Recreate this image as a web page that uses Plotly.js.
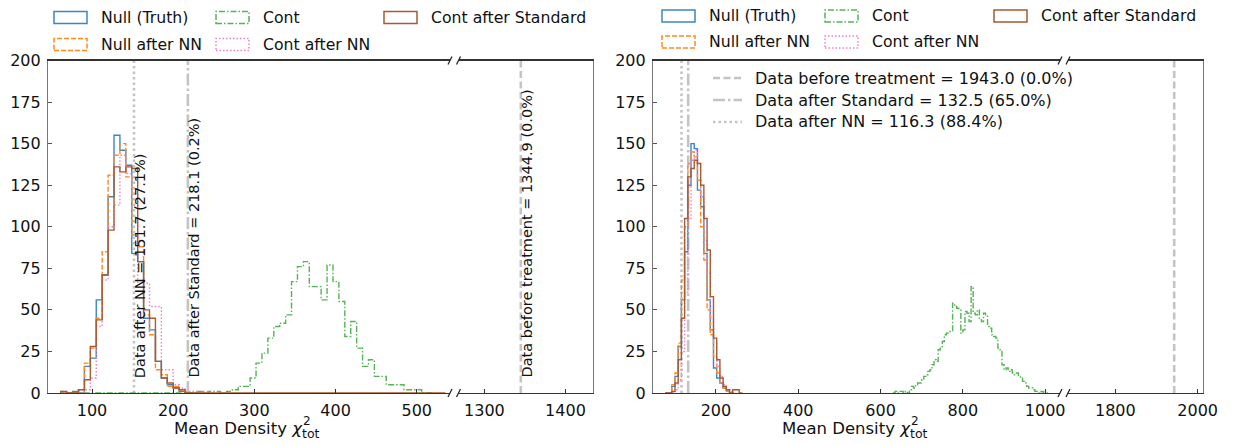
<!DOCTYPE html>
<html>
<head>
<meta charset="utf-8">
<script src="https://cdn.plot.ly/plotly-3.0.1.min.js"></script>
<style>html,body{margin:0;padding:0;background:#fff;}#chart{width:1235px;height:445px;}</style>
</head>
<body>
<div id="chart"></div>
<script>
// ---------------- DATA ----------------
// Left panel: common histogram bins
const leftBinStart = 61.5;
const leftBinWidth = 7.29;
const nullTruthL = [0,0,1,0,16,21,56,71,118,155,146,137,84,79,45,38,19,9,5,3,1,0];
const nullNNL    = [1,0,0,2,18,27,45,85,131,143,150,130,95,88,47,35,14,11,4,4,2,0,0,0];
const contL      = [0,0,0,0,0,0,0,0,0,0,0,0,0,0,0,0,0,0,0,0,0,0,0,
                    1,0,1,1,0,1,2,4,4,9,18,24,33,40,42,47,67,76,79,64,64,56,77,67,55,34,43,27,16,20,10,10,5,5,5,2,2,2,0,0];
const contNNL     = [0,0,0,0,2,9,40,68,100,113,143,132,120,66,66,52,52,14,14,5,3,1,1,0,1,0];
const contStdL    = [1,0,0,2,8,28,44,71,98,136,133,136,135,79,50,45,19,9,6,3,2,0,0,
                    0,0,0,0,0,0,0,0,0,0,0,0,0,0,0,0,0,0,0,0,0,0,0,0,0,0,0,0,0,0,0,0,0,0,0,0,0,0,0,0,0,0];
// Right panel
const rightNullBinStart = 77;
const rightNullBinWidth = 7.8;
const nullTruthR = [0,0,4,10,28,56,85,125,150,147,122,112,84,56,38,15,9,6,3,2,0];
const nullNNR    = [0,0,5,12,30,68,100,138,145,142,128,100,80,50,35,22,12,6,3,1,0];
const contNNR    = [0,0,0,2,8,25,60,105,140,146,138,118,92,72,45,30,16,10,5,2,1,0];
const contStdR   = [0,0,1,6,20,45,105,130,135,140,138,125,105,86,58,33,20,9,4,2,0,2,2,0];
const rightContBinStart = 630;
const rightContBinWidth = 5;
const contR = [0,1,0,1,1,0,1,0,2,4, 3,5,6,6,8,10,11,13,14,17, 20,19,26,27,31,35,36,37,37,54,
               52,51,50,36,38,49,48,43,64,48, 47,50,45,43,48,47,40,39,35,34, 33,27,26,17,14,15,13,14,12,11,
               12,10,9,7,6,4,3,3,2,1, 1,0,1,0,1];

const seriesNames = ["Null (Truth)", "Null after NN", "Cont", "Cont after NN", "Cont after Standard"];
const leftTickVals = [100,200,300,400,500];
const leftBreakTickVals = [1300,1400];
const rightTickVals = [200,400,600,800,1000];
const rightBreakTickVals = [1800,2000];
const yTickVals = [0,25,50,75,100,125,150,175,200];

const leftLineValues = [151.7, 218.1, 1344.9];
const leftLineLabels = ["Data after NN = 151.7 (27.1%)", "Data after Standard = 218.1 (0.2%)", "Data before treatment = 1344.9 (0.0%)"];
const rightLineValues = [1943.0, 132.5, 116.3];
const rightLineLabels = ["Data before treatment = 1943.0 (0.0%)", "Data after Standard = 132.5 (65.0%)", "Data after NN = 116.3 (88.4%)"];
const xTitleMain = "Mean Density <i>χ</i>";
const xTitleSup = "2";
const xTitleSub = "tot";

// ---------------- STYLE ----------------
const W = 1235, H = 445;
const PX = x => x / W, PY = y => 1 - y / H;
const FONT = "DejaVu Sans";
const colors = ["#3a87c8", "#ff8a1f", "#55b455", "#f07fcb", "#a85a30"];
const dashes = ["solid", "5px,2px", "6px,2px,1.5px,2px", "1.5px,2px", "solid"];
const lineGray = "#c4c4c4";
const vDashes = ["7px,3.5px", "12px,3px,2.5px,3px", "2.5px,3px"]; // before, standard, NN

function stepXY(start, width, counts) {
  const xs = [start], ys = [0];
  counts.forEach((c, i) => { const a = start + i * width; xs.push(a, a + width); ys.push(c, c); });
  xs.push(start + counts.length * width); ys.push(0);
  return {xs, ys};
}
function histTrace(start, width, counts, idx, xa, ya) {
  const s = stepXY(start, width, counts);
  return {type: "scatter", mode: "lines", x: s.xs, y: s.ys, xaxis: xa, yaxis: ya, name: seriesNames[idx],
          line: {color: colors[idx], width: 1.4, dash: dashes[idx]}, hoverinfo: "skip", showlegend: false};
}

const traces = [
  histTrace(leftBinStart, leftBinWidth, nullTruthL, 0, "x", "y"),
  histTrace(leftBinStart, leftBinWidth, nullNNL, 1, "x", "y"),
  histTrace(leftBinStart, leftBinWidth, contL, 2, "x", "y"),
  histTrace(leftBinStart, leftBinWidth, contNNL, 3, "x", "y"),
  histTrace(leftBinStart, leftBinWidth, contStdL, 4, "x", "y"),
  histTrace(rightNullBinStart, rightNullBinWidth, nullTruthR, 0, "x3", "y2"),
  histTrace(rightNullBinStart, rightNullBinWidth, nullNNR, 1, "x3", "y2"),
  histTrace(rightContBinStart, rightContBinWidth, contR, 2, "x3", "y2"),
  histTrace(rightNullBinStart, rightNullBinWidth, contNNR, 3, "x3", "y2"),
  histTrace(rightNullBinStart, rightNullBinWidth, contStdR, 4, "x3", "y2"),
];

const yDom = [PY(393), PY(60.5)];
const tickFont = {family: FONT, size: 16, color: "#111"};
function xAx(dom, range, ticks, anchor) {
  return {domain: dom, range: range, anchor: anchor, tickvals: ticks, ticktext: ticks.map(String),
          ticks: "inside", ticklen: 4, tickwidth: 1, tickcolor: "#333", showline: true, mirror: true,
          linecolor: "#333", linewidth: 1.1, showgrid: false, zeroline: false, tickfont: tickFont, ticklabelstandoff: 3};
}
function yAx(anchor, labels, side) {
  return {domain: yDom, range: [0, 200], anchor: anchor, side: side, tickvals: labels ? yTickVals : [],
          ticks: labels ? "inside" : "", ticklen: 4, tickcolor: "#555", showline: true, linecolor: "#777",
          linewidth: 1.1, showgrid: false, zeroline: false, showticklabels: labels, tickfont: tickFont, ticklabelstandoff: 3};
}

const shapes = [], annotations = [];

// vertical lines, left panel
const leftAxes = ["x", "x", "x2"], leftY = ["y", "y", "y3"], leftDashIdx = [2, 1, 0];
leftLineValues.forEach((v, i) => {
  shapes.push({type: "line", xref: leftAxes[i], yref: leftY[i], x0: v, x1: v, y0: 0, y1: 200,
               line: {color: lineGray, width: 2.6, dash: vDashes[leftDashIdx[i]]}, layer: "below"});
  annotations.push({xref: leftAxes[i], yref: leftY[i], x: v, y: 8, text: leftLineLabels[i], textangle: -90,
                    xanchor: "left", yanchor: "bottom", xshift: -4, showarrow: false, font: {family: FONT, size: 14.5, color: "#111"}});
});
// vertical lines, right panel
const rightAxes = ["x4", "x3", "x3"], rightY = ["y4", "y2", "y2"];
rightLineValues.forEach((v, i) => {
  shapes.push({type: "line", xref: rightAxes[i], yref: rightY[i], x0: v, x1: v, y0: 0, y1: 200,
               line: {color: lineGray, width: 2.6, dash: vDashes[i]}, layer: "below"});
  // inner legend
  const ly = 78 + i * 22;
  shapes.push({type: "line", xref: "paper", yref: "paper", x0: PX(713), x1: PX(742), y0: PY(ly), y1: PY(ly),
               line: {color: lineGray, width: 2.6, dash: vDashes[i]}});
  annotations.push({xref: "paper", yref: "paper", x: PX(753), y: PY(ly), text: rightLineLabels[i], xanchor: "left",
                    yanchor: "middle", showarrow: false, font: {family: FONT, size: 16, color: "#111"}});
});

// top legends (manual, rectangle patches)
const legendCols = [[0, 1], [2, 3], [4]];
function addLegend(rectX, textX, rowY) {
  legendCols.forEach((col, ci) => {
    col.forEach((si, ri) => {
      const cy = rowY[ri];
      shapes.push({type: "rect", xref: "paper", yref: "paper", x0: PX(rectX[ci]), x1: PX(rectX[ci] + 33),
                   y0: PY(cy + 6), y1: PY(cy - 6), line: {color: colors[si], width: 1.5, dash: dashes[si]},
                   fillcolor: "rgba(0,0,0,0)"});
      annotations.push({xref: "paper", yref: "paper", x: PX(textX[ci]), y: PY(cy), text: seriesNames[si],
                        xanchor: "left", yanchor: "middle", showarrow: false, font: {family: FONT, size: 15.7, color: "#111"}});
    });
  });
}
addLegend([54, 216, 384], [99, 261, 429], [17.5, 44.5]);
addLegend([662, 825, 994], [707, 870, 1039], [16, 42]);

// axis titles: main text, stacked superscript and subscript
[305, 913].forEach(xr => {
  annotations.push({xref: "paper", yref: "paper", x: PX(xr), y: PY(428), text: xTitleMain,
    xanchor: "right", yanchor: "middle", showarrow: false, font: {family: FONT, size: 16.5, color: "#111"}});
  annotations.push({xref: "paper", yref: "paper", x: PX(xr - 4), y: PY(421), text: xTitleSup,
    xanchor: "left", yanchor: "middle", showarrow: false, font: {family: FONT, size: 12, color: "#111"}});
  annotations.push({xref: "paper", yref: "paper", x: PX(xr - 5), y: PY(433), text: xTitleSub,
    xanchor: "left", yanchor: "middle", showarrow: false, font: {family: FONT, size: 12.5, color: "#111"}});
});

// break marks
function breakMarks(xs) {
  xs.forEach(x => [60.5, 393].forEach(y => shapes.push({type: "line", xref: "paper", yref: "paper",
    x0: PX(x - 2), x1: PX(x + 2), y0: PY(y + 4), y1: PY(y - 4), line: {color: "#222", width: 1.3}})));
}
breakMarks([450, 458.5, 1060, 1068]);

const layout = {
  width: W, height: H, margin: {l: 0, r: 0, t: 0, b: 0}, paper_bgcolor: "#fff", plot_bgcolor: "rgba(0,0,0,0)",
  showlegend: false, font: {family: FONT, size: 16, color: "#111"},
  xaxis: xAx([PX(48), PX(450)], [45.8, 541], leftTickVals, "y"),
  yaxis: yAx("x", true, "left"),
  xaxis2: xAx([PX(458.5), PX(593)], [1268, 1434], leftBreakTickVals, "y3"),
  yaxis3: yAx("x2", false, "right"),
  xaxis3: xAx([PX(653), PX(1060)], [47, 1036], rightTickVals, "y2"),
  yaxis2: yAx("x3", true, "left"),
  xaxis4: xAx([PX(1068), PX(1203)], [1685, 2013], rightBreakTickVals, "y4"),
  yaxis4: yAx("x4", false, "right"),
  shapes: shapes, annotations: annotations
};
Plotly.newPlot("chart", traces, layout, {staticPlot: true, displayModeBar: false});
</script>
</body>
</html>
